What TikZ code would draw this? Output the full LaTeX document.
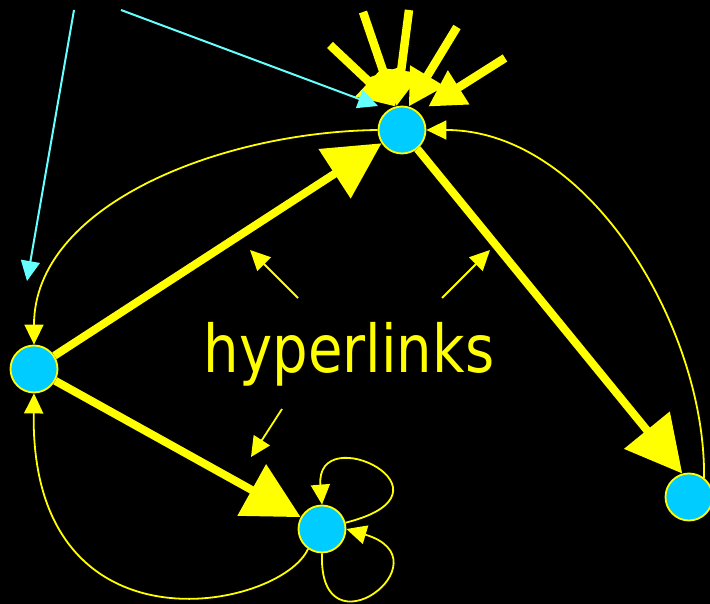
\documentclass[tikz,border=0pt]{standalone}
\usepackage{fontspec}
\usepackage{graphicx}
\setmainfont{DejaVu Sans}
\usetikzlibrary{arrows.meta}
\definecolor{LinkYellow}{HTML}{FFFF00}
\definecolor{PageBlue}{HTML}{00CCFF}
\definecolor{EntryCyan}{HTML}{66FFFF}

\begin{document}
\begin{tikzpicture}[x=1pt,y=-1pt,>=Latex,
    page/.style={circle,draw=LinkYellow,fill=PageBlue,line width=1.8pt,minimum size=47pt,inner sep=0pt},
    biglink/.style={LinkYellow,line width=8pt,-{Triangle[length=56pt,width=57pt]}},
    inlink/.style={LinkYellow,line width=8.5pt,-{Triangle[length=36pt,width=38pt]}},
    thinlink/.style={LinkYellow,line width=1.8pt,-{Triangle[length=20pt,width=19pt]}},
    entry/.style={EntryCyan,line width=2pt,-{Triangle[length=20pt,width=19pt]}}]
    \fill[black] (0,0) rectangle (710,604);
    \useasboundingbox (0,0) rectangle (710,604);

    % the four pages
    \node[page] (T) at (402,130) {};
    \node[page] (L) at (34,369) {};
    \node[page] (B) at (322,529) {};
    \node[page] (R) at (689,497) {};

    \node[anchor=base,text=LinkYellow,font=\fontsize{66}{70}\selectfont] (hyper) at (349,372)
      {\scalebox{0.85}[1]{hyperlinks}};

    % links coming in from outside
    \foreach \name/\x/\y/\ang in {s1/330/45/106,s2/363/12/106,s3/409/10/103,s4/457/27/74} {
      \coordinate (\name) at (\x,\y);
      \draw[inlink] (\name) -- (T.\ang);
    }
    \coordinate (s5) at (505,58);
    \draw[inlink,shorten >=11pt] (s5) -- (T.46);

    % entry points
    \coordinate (e1) at (74,10);   \coordinate (e1tip) at (27,281);
    \coordinate (e2) at (121,10);  \coordinate (e2tip) at (378,106);
    \draw[entry] (e1) -- (e1tip);
    \draw[entry] (e2) -- (e2tip);

    % strong links
    \draw[biglink] (L) -- (T);
    \draw[biglink] (T) -- (R.106);
    \draw[biglink] (L) -- (B);

    % weak links
    \draw[thinlink] (T.west) .. controls (220,132) and (34,205) .. (L.north);
    \draw[thinlink] (B.235) .. controls (280,610) and (30,660) .. (L.south);
    \draw[thinlink] (R.52) .. controls (706,330) and (590,130) .. (T.east);
    \draw[thinlink] (B.15) .. controls (468,492) and (315,418) .. (B.north);
    \draw[thinlink] (B.south) .. controls (318,660) and (450,560) .. (B.east);

    % pointers from the label
    \foreach \name/\x/\y/\tx/\ty in {h1/298/298/250/250,h2/442/298/490/250,h3/282/409/251/457} {
      \coordinate (\name) at (\x,\y);
      \coordinate (\name tip) at (\tx,\ty);
      \draw[thinlink] (\name) -- (\name tip);
    }
\end{tikzpicture}
\end{document}
